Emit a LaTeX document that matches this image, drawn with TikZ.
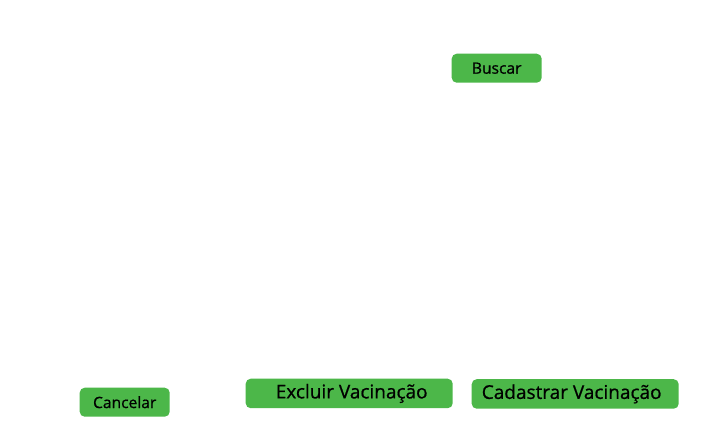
\documentclass[tikz,border=0pt]{standalone}
\usepackage{fontspec}
\setmainfont[FakeBold=0.8,AutoFakeBold=false]{Open Sans}
\newfontfamily\btnfont[FakeBold=0.8]{Open Sans}
\definecolor{btngreen}{RGB}{76,183,73}
\tikzset{
  btn/.style={fill=btngreen, draw=none, rounded corners=5pt, inner sep=0pt, anchor=north west, text=black},
  smallbtn/.style={btn, minimum width=90pt, minimum height=29pt, font=\btnfont\fontsize{15.6pt}{18pt}\selectfont},
  bigbtn/.style={btn, minimum width=207pt, minimum height=29.5pt, font=\btnfont\fontsize{19pt}{22pt}\selectfont}
}
\begin{document}
\begin{tikzpicture}[x=1pt,y=-1pt]
\fill[white] (0,0) rectangle (703,436);
\useasboundingbox (0,0) rectangle (703,436);
\node[smallbtn] (buscar) at (451.5,53.5) {Buscar};
\node[smallbtn] (cancelar) at (79.5,387.5) {Cancelar};
\node[bigbtn] (excluir) at (245.5,378.5) {\raisebox{1.5pt}{\hspace{5pt}Excluir Vacinação}};
\node[bigbtn] (cadastrar) at (471.5,379) {\raisebox{1pt}{Cadastrar Vacinação\hspace{7pt}}};
\end{tikzpicture}
\end{document}
